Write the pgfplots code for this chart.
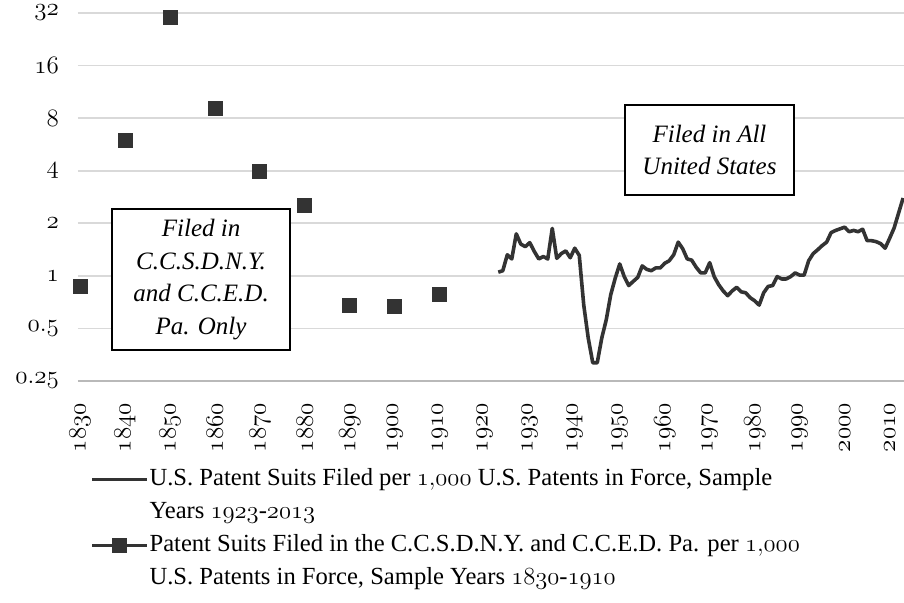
\RequirePackage{fix-cm}
\documentclass[border=0pt]{standalone}
\usepackage{fontspec}
\setmainfont{Liberation Serif}
\usepackage{pgfplots}
\pgfplotsset{compat=1.18}
\definecolor{ink}{HTML}{333333}
\definecolor{gridgray}{HTML}{D9D9D9}
% old-style figures from the math italic font
\newcommand{\os}[1]{\ensuremath{\mathnormal{#1}}}
\newcommand{\tl}[1]{\hbox{\fontsize{12.5}{13}\selectfont\os{#1}}}
\pgfplotsset{
  lineleg/.style={legend image code/.code={\draw[##1] (0pt,0pt) -- (27.5pt,0pt);}},
  markleg/.style={legend image code/.code={\draw[ink, line width=1.8pt] (0pt,0pt) -- (27.5pt,0pt);
    \draw[##1] plot coordinates {(13.75pt,0pt)};}},
}

\pgfplotstableread{
year ratio
1923 1.05
1924 1.07
1925 1.32
1926 1.25
1927 1.74
1928 1.52
1929 1.47
1930 1.55
1931 1.38
1932 1.25
1933 1.29
1934 1.25
1935 1.87
1936 1.26
1937 1.34
1938 1.39
1939 1.27
1940 1.44
1941 1.31
1942 0.68
1943 0.44
1944 0.318
1945 0.318
1946 0.44
1947 0.56
1948 0.78
1949 0.97
1950 1.17
1951 0.99
1952 0.88
1953 0.93
1954 0.98
1955 1.14
1956 1.09
1957 1.07
1958 1.11
1959 1.11
1960 1.18
1961 1.22
1962 1.32
1963 1.56
1964 1.43
1965 1.25
1966 1.23
1967 1.12
1968 1.04
1969 1.04
1970 1.19
1971 0.99
1972 0.89
1973 0.82
1974 0.77
1975 0.82
1976 0.86
1977 0.81
1978 0.80
1979 0.75
1980 0.72
1981 0.68
1982 0.80
1983 0.87
1984 0.88
1985 0.99
1986 0.96
1987 0.96
1988 0.99
1989 1.04
1990 1.01
1991 1.01
1992 1.22
1993 1.34
1994 1.41
1995 1.49
1996 1.56
1997 1.77
1998 1.82
1999 1.86
2000 1.90
2001 1.79
2002 1.82
2003 1.79
2004 1.85
2005 1.59
2006 1.59
2007 1.57
2008 1.53
2009 1.44
2010 1.64
2011 1.88
2012 2.29
2013 2.79
}\allus

\pgfplotstableread{
year ratio
1830 0.865
1840 6.0
1850 30.0
1860 9.07
1870 3.95
1880 2.52
1890 0.68
1900 0.665
1910 0.78
}\courts

\begin{document}
\begin{tikzpicture}[font=\fontsize{12.3}{16.5}\selectfont]
\begin{axis}[
  scale only axis, width=413pt, height=184pt,
  ymode=log, log basis y=2,
  xmin=1829.56, xmax=2013.2, ymin=0.25, ymax=32,
  xtick={1830,1840,...,2010},
  xticklabels={\tl{1830},\tl{1840},\tl{1850},\tl{1860},\tl{1870},\tl{1880},\tl{1890},\tl{1900},\tl{1910},\tl{1920},\tl{1930},\tl{1940},\tl{1950},\tl{1960},\tl{1970},\tl{1980},\tl{1990},\tl{2000},\tl{2010}},
  ytick={0.25,0.5,1,2,4,8,16,32},
  yticklabels={\tl{0.25},\tl{0.5},\tl{1},\tl{2},\tl{4},\tl{8},\tl{16},\tl{32}},
  ymajorgrids, major grid style={draw=gridgray, line width=0.8pt},
  axis line style={draw=none}, tick style={draw=none},
  xticklabel style={rotate=90, anchor=east},
  xticklabel shift=7.5pt, yticklabel shift=6pt,
  clip=false,
  legend style={at={(0.0145,0)}, anchor=north west, yshift=-40.75pt,
    draw=none, fill=none, inner sep=0pt, row sep=0pt,
    font=\fontsize{12.3}{16.5}\selectfont,
    nodes={inner xsep=0.3pt, inner ysep=0pt, text height=11.5pt, text depth=5pt},
    cells={anchor=west}},
]
\draw[draw=gray!55, line width=0.8pt] (rel axis cs:0,0) -- (rel axis cs:1,0);
\addplot[ink, line width=1.8pt, line join=round, lineleg]
  table[x=year, y=ratio] {\allus};
\addlegendentry{U.S. Patent Suits Filed per \os{1{,}000} U.S. Patents in Force, Sample}
\addlegendimage{empty legend}
\addlegendentry{Years \os{1923}-\os{2013}}
\addplot[only marks, mark=square*, mark size=3.5pt, ink, mark options={draw=ink, fill=ink}, markleg]
  table[x=year, y=ratio] {\courts};
\addlegendentry{Patent Suits Filed in the C.C.S.D.N.Y. and C.C.E.D. Pa. per \os{1{,}000}}
\addlegendimage{empty legend}
\addlegendentry{U.S. Patents in Force, Sample Years \os{1830}-\os{1910}}
\node[draw=black, line width=0.75pt, fill=white, align=center,
  font=\fontsize{12.5}{16.3}\selectfont\itshape, minimum width=89pt, minimum height=70.5pt]
  at (rel axis cs:0.149,0.276) {Filed in\\C.C.S.D.N.Y.\\and C.C.E.D.\\Pa. Only};
\node[draw=black, line width=0.75pt, fill=white, align=center,
  font=\fontsize{12.5}{16.3}\selectfont\itshape, minimum width=84.5pt, minimum height=45pt]
  at (rel axis cs:0.7645,0.628) {Filed in All\\United States};
\coordinate (ll) at (rel axis cs:0,0);
\coordinate (ur) at (rel axis cs:1,1);
\end{axis}
\pgfresetboundingbox
\path ([xshift=-39pt,yshift=-111pt]ll) rectangle ([yshift=6.5pt]ur);
\end{tikzpicture}
\end{document}
